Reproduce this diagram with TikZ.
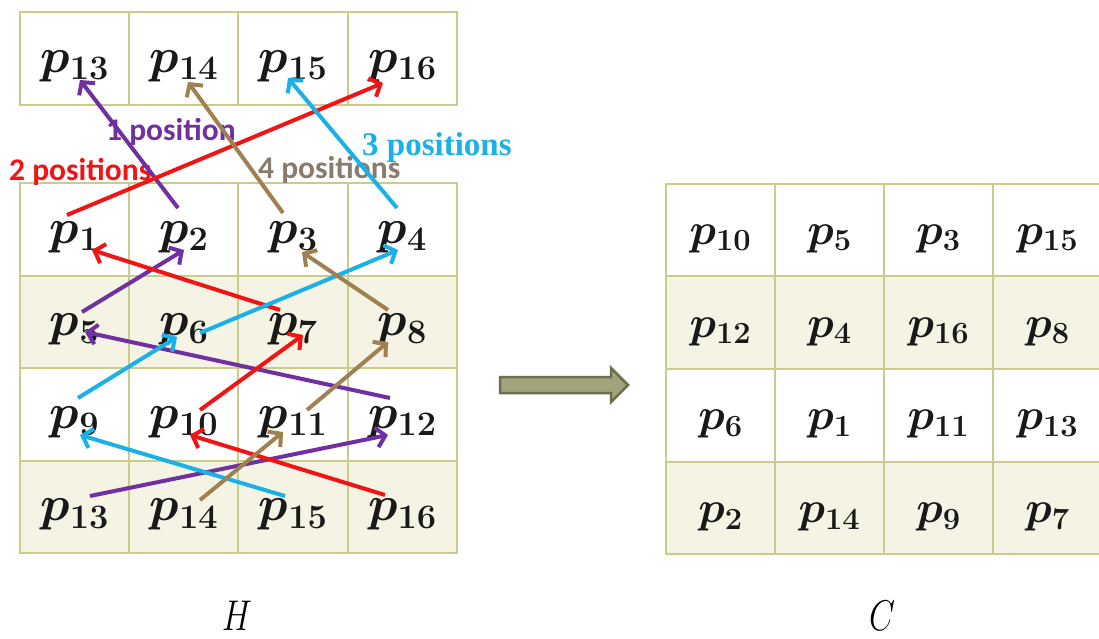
\RequirePackage{fix-cm}
\documentclass[tikz,border=0pt]{standalone}
\usepackage{fontspec}
\newfontfamily\calib{Carlito}
\newfontfamily\serifb{Liberation Serif}
\usetikzlibrary{arrows.meta}
\definecolor{gridline}{RGB}{203,203,140}
\definecolor{beige}{RGB}{245,243,228}
\definecolor{ppurple}{RGB}{112,48,160}
\definecolor{pred}{RGB}{240,20,20}
\definecolor{pcyan}{RGB}{26,176,232}
\definecolor{pbrown}{RGB}{160,128,80}
\definecolor{lblfour}{RGB}{138,124,108}
\definecolor{arrfill}{RGB}{162,165,124}
\definecolor{arrdraw}{RGB}{108,111,76}
\tikzset{
  cell/.style={draw=gridline, line width=2pt, minimum width=109.25pt, minimum height=92.5pt, inner sep=0pt, outer sep=0pt},
  ltxt/.style={font=\fontsize{49}{52}\selectfont\boldmath, inner sep=0pt, text=black!90},
  rtxt/.style={font=\fontsize{44}{47}\selectfont\boldmath, inner sep=0pt, text=black!90},
  arr/.style={line width=4pt, -{Straight Barb[length=9pt,width=20pt]}},
  poslbl/.style={font=\calib\bfseries\fontsize{31.5}{32}\selectfont, inner sep=0pt, anchor=base west},
  gridlbl/.style={font=\fontsize{43}{43}\selectfont, inner sep=0pt, anchor=base},
}
\begin{document}
\begin{tikzpicture}[x=1pt,y=-1pt]
\useasboundingbox (0,0) rectangle (1099,638);
\fill[white] (0,0) rectangle (1099,638);
% top row of H
\foreach \c in {0,...,3}{
  \pgfmathtruncatemacro\n{13+\c}
  \node[cell, fill=white] (T\n) at ({74.6+109.25*\c},58.5) {};
  \node[ltxt] (tT\n) at ([yshift=-8pt]T\n.center) {$p_{\n}$};
}
% main grid H
\foreach \r in {0,...,3}{
  \foreach \c in {0,...,3}{
    \pgfmathtruncatemacro\n{4*\r+\c+1}
    \ifodd\r \def\cf{beige}\else\def\cf{white}\fi
    \node[cell, fill=\cf] (H\n) at ({74.6+109.25*\c},{229.25+92.5*\r}) {};
    \node[ltxt] (tH\n) at ([yshift=-8pt]H\n.center) {$p_{\n}$};
  }
}
% grid C
\foreach \v [count=\k from 0] in {10,5,3,15,12,4,16,8,6,1,11,13,2,14,9,7}{
  \pgfmathtruncatemacro\r{int(\k/4)}
  \pgfmathtruncatemacro\c{mod(\k,4)}
  \ifodd\r \def\cf{beige}\else\def\cf{white}\fi
  \node[cell, fill=\cf, minimum width=109pt] (C\k) at ({720.5+109*\c},{229.75+92.75*\r}) {};
  \node[rtxt] (tC\k) at ([yshift=-9pt]C\k.center) {$p_{\v}$};
}
% position labels
\node[poslbl, text=ppurple] (l1) at (106,140) {1 position};
\node[poslbl, text=pred] (l2) at (9,180) {2 positions};
\node[poslbl, text=lblfour] (l4) at (258,178) {4 positions};
\node[poslbl, text=pcyan, font=\serifb\bfseries\fontsize{33}{33}\selectfont] (l3) at (362,155) {3 positions};
% arrow end points
\coordinate (P1s) at (178,208); \coordinate (P1e) at (80,80);
\coordinate (P2s) at (82,312);  \coordinate (P2e) at (184,250);
\coordinate (P3s) at (390,398); \coordinate (P3e) at (85,332);
\coordinate (P4s) at (90,496);  \coordinate (P4e) at (388,435);
\coordinate (R1s) at (67,215);  \coordinate (R1e) at (383,83);
\coordinate (R2s) at (280,310); \coordinate (R2e) at (92,250);
\coordinate (R3s) at (200,410); \coordinate (R3e) at (303,335);
\coordinate (R4s) at (385,495); \coordinate (R4e) at (190,435);
\coordinate (C1s) at (397,208); \coordinate (C1e) at (288,78);
\coordinate (C2s) at (200,333); \coordinate (C2e) at (398,250);
\coordinate (C3s) at (78,398);  \coordinate (C3e) at (177,337);
\coordinate (C4s) at (285,496); \coordinate (C4e) at (80,435);
\coordinate (B1s) at (283,213); \coordinate (B1e) at (188,82);
\coordinate (B2s) at (388,310); \coordinate (B2e) at (302,252);
\coordinate (B3s) at (307,410); \coordinate (B3e) at (388,342);
\coordinate (B4s) at (200,500); \coordinate (B4e) at (283,432);
% arrows
\foreach \a in {1,...,4}{
  \draw[arr, ppurple] (P\a s) -- (P\a e);
  \draw[arr, pred] (R\a s) -- (R\a e);
  \draw[arr, pcyan] (C\a s) -- (C\a e);
  \draw[arr, pbrown] (B\a s) -- (B\a e);
}
% big arrow
\draw[fill=arrfill, draw=arrdraw, line width=2.5pt, line join=miter]
  (500,377) -- (611,377) -- (611,368) -- (628,385) -- (611,402) -- (611,393) -- (500,393) -- cycle;
% grid names
\node[gridlbl] (labH) at (237,630) {\scalebox{0.78}[1]{$H$}};
\node[gridlbl] (labC) at (882,630) {\scalebox{0.78}[1]{$C$}};
\end{tikzpicture}
\end{document}
